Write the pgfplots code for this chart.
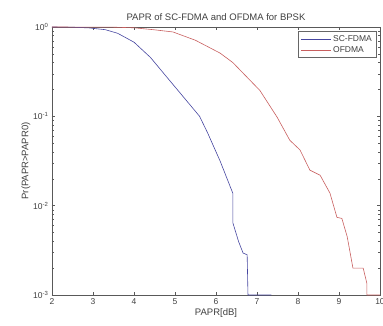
\documentclass[border=0pt]{standalone}
\usepackage{pgfplots}
\pgfplotsset{compat=1.18}
\usepackage{fontspec}
\setmainfont{Liberation Sans}

\definecolor{scfdma}{RGB}{70,70,160}
\definecolor{ofdma}{RGB}{200,95,95}

\begin{document}
\begin{tikzpicture}
\begin{axis}[
  name=ax,
  scale only axis,
  width=328pt, height=268pt,
  ymode=log,
  xmin=2, xmax=10,
  ymin=1e-3, ymax=1,
  xtick={2,3,...,10},
  ytick={1e-3,1e-2,1e-1,1},
  yticklabels={10\textsuperscript{-3},10\textsuperscript{-2},10\textsuperscript{-1},10\textsuperscript{0}},
  /pgf/number format/assume math mode=true,
  tick align=inside,
  tick pos=both,
  major tick length=3pt,
  minor tick length=1.8pt,
  axis line style={black!65},
  every tick/.style={black!65},
  tick label style={font=\fontsize{8.5}{9}\selectfont, black!75},
  title={PAPR of SC-FDMA and OFDMA for BPSK},
  title style={font=\fontsize{9.5}{10}\selectfont, black!75, yshift=-3pt},
  xlabel={PAPR[dB]},
  ylabel={Pr(PAPR>PAPR0)},
  label style={font=\fontsize{9.5}{10}\selectfont, black!75},
  xlabel style={yshift=3pt},
  ylabel style={yshift=-4pt},
  legend style={at={(0.988,0.985)}, anchor=north east,
    font=\fontsize{8.5}{9}\selectfont, text=black!75,
    draw=black!60, inner sep=2pt, row sep=-0.5pt},
  legend cell align=left,
  legend image code/.code={\draw[#1] (0pt,0pt) -- (30pt,0pt);},
]
% SC-FDMA CCDF
\addplot[scfdma, line width=0.6pt] coordinates {
  (2.0,1.0) (2.5,0.995) (2.9,0.977) (3.3,0.933) (3.6,0.851)
  (4.0,0.676) (4.4,0.457) (4.8,0.275) (5.2,0.166) (5.6,0.100)
  (5.8,0.0646) (6.1,0.0316) (6.41,0.0138) (6.41,0.00646)
  (6.55,0.00398) (6.66,0.00295) (6.76,0.00282) (6.78,0.001)
  (7.35,0.001)
};
\addlegendentry{SC-FDMA}
% OFDMA CCDF
\addplot[ofdma, line width=0.6pt] coordinates {
  (2.0,1.0) (3.5,0.995) (4.0,0.98) (4.5,0.93) (4.95,0.88)
  (5.5,0.71) (6.1,0.51) (6.41,0.40) (7.07,0.195) (7.49,0.098)
  (7.80,0.054) (8.05,0.042) (8.29,0.025) (8.54,0.0219)
  (8.78,0.0138) (8.95,0.0074) (9.07,0.0072) (9.20,0.0045)
  (9.34,0.0020) (9.59,0.0020) (9.68,0.00135) (9.68,0.001)
  (10.0,0.001)
};
\addlegendentry{OFDMA}
\end{axis}
\pgfresetboundingbox
\path (-52pt,-31pt) rectangle (331pt,295pt);
\end{tikzpicture}
\end{document}
